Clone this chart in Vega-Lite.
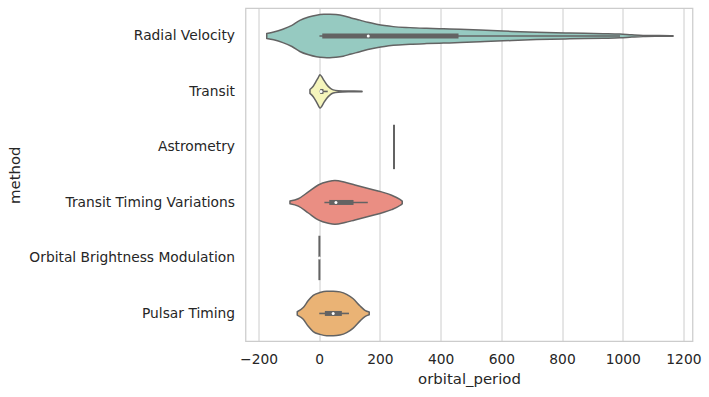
{
  "$schema": "https://vega.github.io/schema/vega-lite/v6.json",
  "width": 447,
  "height": 333,
  "autosize": "none",
  "padding": {"left": 245.5, "top": 8.2, "right": 16.5, "bottom": 55.8},
  "background": "white",
  "config": {
    "view": {"stroke": "#cccccc", "strokeWidth": 1.25},
    "axis": {
      "labelFont": "DejaVu Sans",
      "titleFont": "DejaVu Sans",
      "labelColor": "#262626",
      "titleColor": "#262626",
      "labelFontSize": 13.8,
      "titleFontSize": 14.9,
      "titleFontWeight": "normal",
      "labelLimit": 0,
      "ticks": false,
      "domain": false,
      "gridColor": "#cccccc",
      "gridWidth": 1
    }
  },
  "datasets": {
    "violin": [
      {"method": "Radial Velocity", "orbital_period": -173, "lower": -0.045, "upper": 0.045},
      {"method": "Radial Velocity", "orbital_period": -150, "lower": -0.07, "upper": 0.07},
      {"method": "Radial Velocity", "orbital_period": -120, "lower": -0.12, "upper": 0.12},
      {"method": "Radial Velocity", "orbital_period": -90, "lower": -0.19, "upper": 0.19},
      {"method": "Radial Velocity", "orbital_period": -64, "lower": -0.28, "upper": 0.28},
      {"method": "Radial Velocity", "orbital_period": -35, "lower": -0.34, "upper": 0.34},
      {"method": "Radial Velocity", "orbital_period": -9, "lower": -0.375, "upper": 0.375},
      {"method": "Radial Velocity", "orbital_period": 15, "lower": -0.39, "upper": 0.39},
      {"method": "Radial Velocity", "orbital_period": 35, "lower": -0.393, "upper": 0.393},
      {"method": "Radial Velocity", "orbital_period": 55, "lower": -0.385, "upper": 0.385},
      {"method": "Radial Velocity", "orbital_period": 79, "lower": -0.365, "upper": 0.365},
      {"method": "Radial Velocity", "orbital_period": 105, "lower": -0.325, "upper": 0.325},
      {"method": "Radial Velocity", "orbital_period": 134, "lower": -0.285, "upper": 0.285},
      {"method": "Radial Velocity", "orbital_period": 160, "lower": -0.245, "upper": 0.245},
      {"method": "Radial Velocity", "orbital_period": 189, "lower": -0.212, "upper": 0.212},
      {"method": "Radial Velocity", "orbital_period": 215, "lower": -0.188, "upper": 0.188},
      {"method": "Radial Velocity", "orbital_period": 244, "lower": -0.168, "upper": 0.168},
      {"method": "Radial Velocity", "orbital_period": 299, "lower": -0.15, "upper": 0.15},
      {"method": "Radial Velocity", "orbital_period": 354, "lower": -0.138, "upper": 0.138},
      {"method": "Radial Velocity", "orbital_period": 410, "lower": -0.128, "upper": 0.128},
      {"method": "Radial Velocity", "orbital_period": 464, "lower": -0.12, "upper": 0.12},
      {"method": "Radial Velocity", "orbital_period": 530, "lower": -0.105, "upper": 0.105},
      {"method": "Radial Velocity", "orbital_period": 606, "lower": -0.088, "upper": 0.088},
      {"method": "Radial Velocity", "orbital_period": 716, "lower": -0.066, "upper": 0.066},
      {"method": "Radial Velocity", "orbital_period": 826, "lower": -0.052, "upper": 0.052},
      {"method": "Radial Velocity", "orbital_period": 936, "lower": -0.041, "upper": 0.041},
      {"method": "Radial Velocity", "orbital_period": 991, "lower": -0.033, "upper": 0.033},
      {"method": "Radial Velocity", "orbital_period": 1030, "lower": -0.02, "upper": 0.02},
      {"method": "Radial Velocity", "orbital_period": 1067, "lower": -0.01, "upper": 0.01},
      {"method": "Radial Velocity", "orbital_period": 1120, "lower": -0.006, "upper": 0.006},
      {"method": "Radial Velocity", "orbital_period": 1166, "lower": -0.004, "upper": 0.004},
      {"method": "Transit", "orbital_period": -30.6, "lower": 0.964, "upper": 1.036},
      {"method": "Transit", "orbital_period": -19.8, "lower": 0.905, "upper": 1.095},
      {"method": "Transit", "orbital_period": -8.6, "lower": 0.802, "upper": 1.198},
      {"method": "Transit", "orbital_period": -3.3, "lower": 0.75, "upper": 1.25},
      {"method": "Transit", "orbital_period": 2.3, "lower": 0.7, "upper": 1.3},
      {"method": "Transit", "orbital_period": 7.9, "lower": 0.73, "upper": 1.27},
      {"method": "Transit", "orbital_period": 15.5, "lower": 0.802, "upper": 1.198},
      {"method": "Transit", "orbital_period": 24.4, "lower": 0.874, "upper": 1.126},
      {"method": "Transit", "orbital_period": 35, "lower": 0.935, "upper": 1.065},
      {"method": "Transit", "orbital_period": 46, "lower": 0.971, "upper": 1.029},
      {"method": "Transit", "orbital_period": 62.6, "lower": 0.987, "upper": 1.013},
      {"method": "Transit", "orbital_period": 100, "lower": 0.993, "upper": 1.007},
      {"method": "Transit", "orbital_period": 141, "lower": 0.995, "upper": 1.005},
      {"method": "Transit Timing Variations", "orbital_period": -96.5, "lower": 2.975, "upper": 3.025},
      {"method": "Transit Timing Variations", "orbital_period": -69, "lower": 2.933, "upper": 3.067},
      {"method": "Transit Timing Variations", "orbital_period": -36, "lower": 2.81, "upper": 3.19},
      {"method": "Transit Timing Variations", "orbital_period": -3.3, "lower": 2.685, "upper": 3.315},
      {"method": "Transit Timing Variations", "orbital_period": 29.7, "lower": 2.624, "upper": 3.376},
      {"method": "Transit Timing Variations", "orbital_period": 51.7, "lower": 2.606, "upper": 3.394},
      {"method": "Transit Timing Variations", "orbital_period": 84.7, "lower": 2.637, "upper": 3.363},
      {"method": "Transit Timing Variations", "orbital_period": 117.6, "lower": 2.685, "upper": 3.315},
      {"method": "Transit Timing Variations", "orbital_period": 161.4, "lower": 2.748, "upper": 3.252},
      {"method": "Transit Timing Variations", "orbital_period": 205.6, "lower": 2.81, "upper": 3.19},
      {"method": "Transit Timing Variations", "orbital_period": 238.6, "lower": 2.87, "upper": 3.13},
      {"method": "Transit Timing Variations", "orbital_period": 265.9, "lower": 2.945, "upper": 3.055},
      {"method": "Transit Timing Variations", "orbital_period": 273.5, "lower": 2.975, "upper": 3.025},
      {"method": "Pulsar Timing", "orbital_period": -72.5, "lower": 4.97, "upper": 5.03},
      {"method": "Pulsar Timing", "orbital_period": -52.7, "lower": 4.894, "upper": 5.106},
      {"method": "Pulsar Timing", "orbital_period": -36.2, "lower": 4.768, "upper": 5.232},
      {"method": "Pulsar Timing", "orbital_period": -19.8, "lower": 4.674, "upper": 5.326},
      {"method": "Pulsar Timing", "orbital_period": 2.3, "lower": 4.623, "upper": 5.377},
      {"method": "Pulsar Timing", "orbital_period": 24.4, "lower": 4.598, "upper": 5.402},
      {"method": "Pulsar Timing", "orbital_period": 46.1, "lower": 4.598, "upper": 5.402},
      {"method": "Pulsar Timing", "orbital_period": 68.2, "lower": 4.611, "upper": 5.389},
      {"method": "Pulsar Timing", "orbital_period": 90.3, "lower": 4.655, "upper": 5.345},
      {"method": "Pulsar Timing", "orbital_period": 112, "lower": 4.736, "upper": 5.264},
      {"method": "Pulsar Timing", "orbital_period": 134, "lower": 4.862, "upper": 5.138},
      {"method": "Pulsar Timing", "orbital_period": 150.6, "lower": 4.943, "upper": 5.057},
      {"method": "Pulsar Timing", "orbital_period": 164.7, "lower": 4.975, "upper": 5.025}
    ],
    "boxes": [
      {"method": "Radial Velocity", "pos": 0, "whisker_low": 0.7, "whisker_high": 991, "q1": 10, "q3": 459, "median": 161.5},
      {"method": "Transit", "pos": 1, "whisker_low": 0.5, "whisker_high": 28, "q1": 3, "q3": 14, "median": 6},
      {"method": "Transit Timing Variations", "pos": 3, "whisker_low": 17, "whisker_high": 160, "q1": 33, "q3": 113, "median": 55},
      {"method": "Orbital Brightness Modulation", "pos": 4, "whisker_low": 0.24, "whisker_high": 1.54, "q1": 0.29, "q3": 0.94, "median": 0.34},
      {"method": "Pulsar Timing", "pos": 5, "whisker_low": 0.1, "whisker_high": 98, "q1": 18.5, "q3": 74.5, "median": 46}
    ],
    "single": [
      {"method": "Astrometry", "orbital_period": 246.4, "lower": 1.6, "upper": 2.4},
      {"method": "Orbital Brightness Modulation", "orbital_period": 0.5, "lower": 3.6, "upper": 4.4}
    ]
  },
  "encoding": {
    "x": {
      "type": "quantitative",
      "scale": {"domain": [-243, 1230], "nice": false, "zero": false},
      "axis": {
        "title": "orbital_period",
        "values": [-200, 0, 200, 400, 600, 800, 1000, 1200],
        "format": "d",
        "grid": true,
        "labelPadding": 11.5,
        "titlePadding": 5
      }
    },
    "y": {
      "type": "quantitative",
      "scale": {"domain": [-0.5, 5.5], "nice": false, "zero": false, "reverse": true},
      "axis": {
        "title": "method",
        "values": [0, 1, 2, 3, 4, 5],
        "labelExpr": "['Radial Velocity','Transit','Astrometry','Transit Timing Variations','Orbital Brightness Modulation','Pulsar Timing'][datum.value]",
        "grid": false,
        "labelPadding": 11,
        "titlePadding": 23
      }
    }
  },
  "layer": [
    {
      "data": {"name": "violin"},
      "mark": {"type": "area", "orient": "vertical", "interpolate": "monotone", "stroke": "#636363", "strokeWidth": 1.5, "strokeJoin": "round", "fillOpacity": 1},
      "encoding": {
        "x": {"field": "orbital_period", "type": "quantitative"},
        "y": {"field": "lower", "type": "quantitative"},
        "y2": {"field": "upper"},
        "color": {
          "field": "method",
          "type": "nominal",
          "scale": {
            "domain": ["Radial Velocity", "Transit", "Transit Timing Variations", "Pulsar Timing"],
            "range": ["#96cac1", "#f5f5bc", "#ea8e83", "#eab375"]
          },
          "legend": null
        }
      }
    },
    {
      "data": {"name": "single"},
      "mark": {"type": "rule", "color": "#636363", "strokeWidth": 2},
      "encoding": {
        "x": {"field": "orbital_period", "type": "quantitative"},
        "y": {"field": "lower", "type": "quantitative"},
        "y2": {"field": "upper"}
      }
    },
    {
      "data": {"name": "boxes"},
      "mark": {"type": "rule", "color": "#636363", "strokeWidth": 1.6},
      "encoding": {
        "x": {"field": "whisker_low", "type": "quantitative"},
        "x2": {"field": "whisker_high"},
        "y": {"field": "pos", "type": "quantitative"}
      }
    },
    {
      "data": {"name": "boxes"},
      "mark": {"type": "rule", "color": "#636363", "strokeWidth": 5},
      "encoding": {
        "x": {"field": "q1", "type": "quantitative"},
        "x2": {"field": "q3"},
        "y": {"field": "pos", "type": "quantitative"}
      }
    },
    {
      "data": {"name": "boxes"},
      "mark": {"type": "point", "filled": true, "color": "white", "size": 9, "opacity": 1},
      "encoding": {
        "x": {"field": "median", "type": "quantitative"},
        "y": {"field": "pos", "type": "quantitative"}
      }
    }
  ]
}
